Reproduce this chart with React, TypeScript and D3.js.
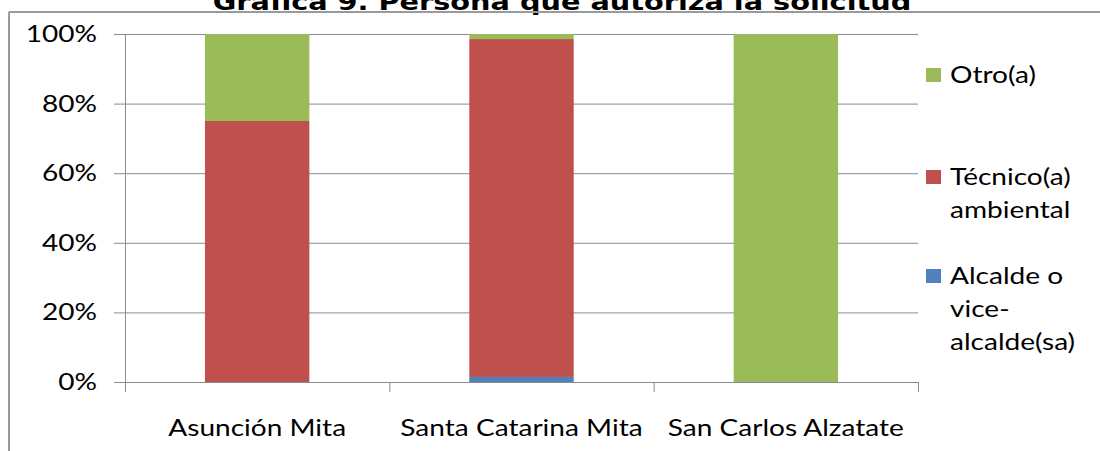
import React from "react";
import * as d3 from "d3";

const categories = ["Asunción Mita", "Santa Catarina Mita", "San Carlos Alzatate"];
const alcalde = [0, 1.45, 0];
const tecnico = [75, 97.1, 0];
const otro = [25, 1.45, 100];
const yTicks = [0, 20, 40, 60, 80, 100];
const seriesNames = ["Alcalde o vice-alcalde(sa)", "Técnico(a) ambiental", "Otro(a)"];
const seriesColors = ["#4F81BD", "#C0504D", "#9BBB59"];
const legendLines = [["Otro(a)"], ["Técnico(a)", "ambiental"], ["Alcalde o", "vice-", "alcalde(sa)"]];
const title = "Gráfica 9. Persona que autoriza la solicitud";

const SX = 1.22;

function T(props: { x: number; y: number; anchor?: string; size?: number; sx?: number; bold?: boolean; family?: string; children: any }) {
  const { x, y, anchor = "start", size = 23, sx = SX, bold = false, family = "Lato, 'Open Sans', sans-serif", children } = props;
  return (
    <g transform={`translate(${x},${y}) scale(${sx},1)`}>
      <text x={0} y={0} dy="0.35em" textAnchor={anchor as any} fontFamily={family} fontWeight={bold ? "bold" : "normal"} fontSize={size} fill="#000">{children}</text>
    </g>
  );
}

export default function App() {
  const W = 1100, H = 451;
  const left = 125, right = 918, top = 34, bottom = 382;
  const x = d3.scaleBand<string>().domain(categories).range([left, right]).paddingInner(0.605).paddingOuter(0.3025);
  const y = d3.scaleLinear().domain([0, 100]).range([bottom, top]);
  const rows = categories.map((c, i) => ({ cat: c, a: alcalde[i], t: tecnico[i], o: otro[i] }));
  const stack = d3.stack<any>().keys(["a", "t", "o"])(rows);
  const grid = "#8c8c8c";
  const step = (right - left) / categories.length;
  const legendY = [75, 177, 276];
  return (
    <svg width={W} height={H} style={{ position: "absolute", left: 0, top: 0, background: "#fff" }}>
      <g transform={`translate(562,10) scale(1.25,1)`}>
        <text x={0} y={0} textAnchor="middle" fontFamily="'DejaVu Sans', sans-serif" fontWeight="bold" fontSize={23} fill="#000">{title}</text>
      </g>
      <line x1={9} y1={12} x2={W} y2={12} stroke="#9a9a9a" strokeWidth={2} />
      <line x1={9} y1={12} x2={9} y2={H} stroke="#9a9a9a" strokeWidth={2} />
      {yTicks.map((t) => (
        <g key={t}>
          <line x1={114} x2={right} y1={y(t) + 0.5} y2={y(t) + 0.5} stroke={grid} strokeWidth={1} />
          <T x={97} y={y(t)} anchor="end">{t}%</T>
        </g>
      ))}
      <line x1={left + 0.5} x2={left + 0.5} y1={top} y2={bottom + 10} stroke={grid} />
      {d3.range(categories.length + 1).map((i) => (
        <line key={i} x1={left + i * step + 0.5} x2={left + i * step + 0.5} y1={bottom} y2={bottom + 10} stroke={grid} />
      ))}
      {stack.map((s, si) => (
        <g key={si} fill={seriesColors[si]}>
          {s.map((d: any, i: number) => (
            <rect key={i} x={x(categories[i])} width={x.bandwidth()} y={y(d[1])} height={Math.max(0, y(d[0]) - y(d[1]))} />
          ))}
        </g>
      ))}
      <line x1={114} x2={right} y1={bottom + 0.5} y2={bottom + 0.5} stroke={grid} />
      {categories.map((c) => (
        <T key={c} x={(x(c) as number) + x.bandwidth() / 2} y={428} anchor="middle">{c}</T>
      ))}
      {[2, 1, 0].map((si, li) => (
        <g key={si}>
          <rect x={926} y={legendY[li] - 7} width={15} height={14} fill={seriesColors[si]} />
          {legendLines[li].map((ln, k) => (
            <T key={k} x={950} y={legendY[li] + k * 33}>{ln}</T>
          ))}
        </g>
      ))}
    </svg>
  );
}
